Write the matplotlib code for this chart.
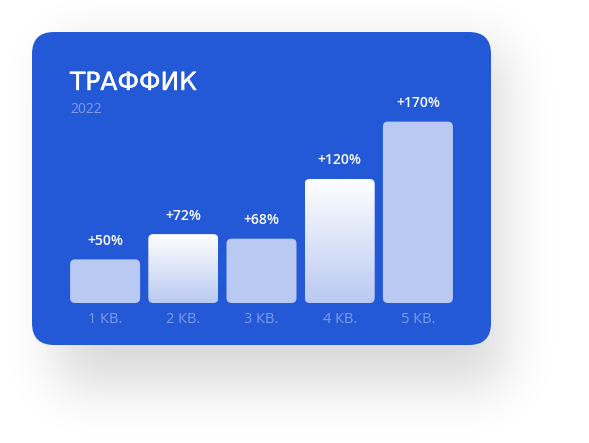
import numpy as np
import matplotlib
matplotlib.use("Agg")
import matplotlib.pyplot as plt
import matplotlib.patheffects as pe
from matplotlib.patches import FancyBboxPatch
from matplotlib.colors import LinearSegmentedColormap

# data
quarters = ["1 КВ.", "2 КВ.", "3 КВ.", "4 КВ.", "5 КВ."]
growth = [50, 72, 68, 120, 170]
gradient_bar = [False, True, False, True, False]
title = "ТРАФФИК"
year = "2022"

W, H = 589, 443
card_blue = "#2358d7"
bar_color = "#b9c9f1"
muted = "#7f9de8"

fig = plt.figure(figsize=(W / 100, H / 100), dpi=100)
fig.patch.set_facecolor("white")

# background axes in pixel coords
bg = fig.add_axes([0, 0, 1, 1])
bg.set_xlim(0, W)
bg.set_ylim(H, 0)
bg.axis("off")

# soft shadow under the card
cx0, cy0, cx1, cy1 = 32, 32, 491, 345
yy, xx = np.mgrid[0:H, 0:W]
sx0, sy0, sx1, sy1 = cx0 + 25, cy0 + 15, cx1 + 12, cy1 + 40
mask = ((xx >= sx0) & (xx <= sx1) & (yy >= sy0) & (yy <= sy1)).astype(float)


def gauss_matrix(n, sigma):
    idx = np.arange(n)
    k = np.exp(-0.5 * ((idx[:, None] - idx[None, :]) / sigma) ** 2)
    return k / (sigma * np.sqrt(2 * np.pi))


blur = gauss_matrix(H, 26) @ mask @ gauss_matrix(W, 26).T
shadow = np.zeros((H, W, 4))
shadow[..., 3] = blur / blur.max() * 0.15
bg.imshow(shadow, extent=(0, W, H, 0), zorder=0, interpolation="bilinear")

card = FancyBboxPatch((cx0, cy0), cx1 - cx0, cy1 - cy0,
                      boxstyle="round,pad=0,rounding_size=22",
                      fc=card_blue, ec="none", zorder=1)
bg.add_patch(card)

bg.text(70, 90, title, color="white", fontsize=18, family="DejaVu Sans",
        va="baseline", ha="left", zorder=2,
        path_effects=[pe.withStroke(linewidth=0.3, foreground="white")])
bg.text(70, 113, year, color=muted, fontsize=10, family="Open Sans",
        va="baseline", ha="left", zorder=2)

# chart axes
base = 12
ax = fig.add_axes([66 / W, (H - 303) / H, 391 / W, (303 - 90) / H])
ax.set_xlim(-0.5, 4.5)
ax.set_ylim(base, base + 213 / 1.148)
ax.patch.set_visible(False)
for s in ax.spines.values():
    s.set_visible(False)
ax.set_yticks([])
x = np.arange(len(quarters))
ax.set_xticks(x)
ax.set_xticklabels(quarters, color=muted, fontsize=10.5, family="Open Sans",
                   fontweight="medium")
ax.tick_params(axis="x", length=0, pad=6.5)

bars = ax.bar(x, np.array(growth) - base, bottom=base, width=0.895)

# rounded bar shapes
px_x = 391 / 5
px_y = 1.148
r = 5 / px_x
grad_cmap = LinearSegmentedColormap.from_list("g", [bar_color, "#ffffff"])
for b, v, g in zip(bars, growth, gradient_bar):
    b.set_visible(False)
    p = FancyBboxPatch((b.get_x(), b.get_y()), b.get_width(), b.get_height(),
                       boxstyle=f"round,pad=0,rounding_size={r}",
                       mutation_aspect=px_x / px_y,
                       fc=bar_color if not g else "none", ec="none", zorder=2)
    ax.add_patch(p)
    if g:
        grad = np.linspace(0, 1, 256).reshape(-1, 1)
        im = ax.imshow(grad, cmap=grad_cmap, origin="lower", aspect="auto",
                       extent=(b.get_x(), b.get_x() + b.get_width(),
                               b.get_y(), b.get_y() + b.get_height()),
                       zorder=2)
        im.set_clip_path(p)
    ax.annotate(f"+{v}%", (b.get_x() + b.get_width() / 2, v),
                xytext=(0, 10.5), textcoords="offset points",
                ha="center", va="baseline", color="white", fontsize=10,
                family="Open Sans", fontweight="semibold")

ax.set_xlim(-0.5, 4.5)
ax.set_ylim(base, base + 213 / 1.148)

fig.savefig("out.png", dpi=100)
